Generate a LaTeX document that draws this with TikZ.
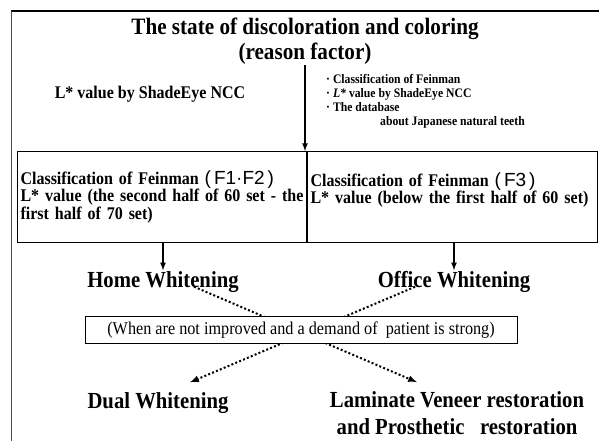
\documentclass[tikz,border=0pt]{standalone}
\usepackage{fontspec}
\setmainfont{Liberation Serif}[FakeStretch=0.9]
\newfontfamily\fsans{Liberation Sans}
\begin{document}
\begin{tikzpicture}
			[x=1pt,y=-1pt,
			big/.style={font=\fontsize{23}{27}\selectfont\bfseries,inner sep=1pt},
			mid/.style={font=\fontsize{17.8}{17.5}\selectfont\bfseries,inner sep=0pt},
			small/.style={font=\fontsize{13}{14}\selectfont\bfseries,inner sep=0pt},
			cell/.style={mid,draw,line width=1pt,minimum height=91pt,inner sep=3pt,anchor=north west,align=left},
			arr/.style={->,line width=1.6pt},
			dots/.style={->,line width=2pt,dash pattern=on 2pt off 2.2pt},
			>=latex]
			\useasboundingbox(0,0)rectangle(599,441);
			% frame
			\draw[line width=1.2pt](11,11)--(599,11);
			\draw[line width=0.8pt,black!70](11,11)--(11,441);
			% top part
			\node[big,name=title,align=center,font=\fontsize{23.5}{25}\selectfont\bfseries]at(305,41){The state of discoloration and coloring\\(reason factor)};
			\node[mid,name=lstar]at(150,94){L* value by ShadeEye NCC};
			\node[small,name=crit,anchor=north west,align=left]at(326,74){· Classification of Feinman\\· \textit{L*} value by ShadeEye NCC\\· The database\\\hspace*{54pt}about Japanese natural teeth};
			% classification box
			\node[cell,name=fcell12,text width=283pt]at(17,151){Classification of Feinman {\fsans\mdseries\fontsize{19}{17.5}\selectfont(\kern3pt F1·F2\kern3pt)}\\L* value (the second half of 60 set - the\\first half of 70 set)};
			\node[cell,name=fcell3,text width=284pt]at(fcell12.north east){Classification of Feinman {\fsans\mdseries\fontsize{19}{17.5}\selectfont(\kern3pt F3\kern3pt)}\\L* value (below the first half of 60 set)\\\mbox{}};
			\draw[arr](title.south)--(title.south|-fcell12.north);
			% treatments
			\node[big,name=home]at(163,282){Home Whitening};
			\node[big,name=office]at(454,282){Office Whitening};
			\node[big,name=dual]at(158,403){Dual Whitening};
			\node[big,name=lami,align=center]at(457,413){Laminate Veneer restoration\\and Prosthetic\ \ \ restoration};
			\draw[arr](home.north|-fcell12.south)--(home.north);
			\draw[arr](office.north|-fcell3.south)--(office.north);
			\draw[dots]([xshift=31pt,yshift=7pt]home.south)--([xshift=-40pt,yshift=8pt]lami.north);
			\draw[dots]([xshift=-39pt,yshift=7pt]office.south)--([xshift=32pt,yshift=9pt]dual.north);
			\node[name=cond,draw,line width=1pt,fill=white,minimum width=432pt,minimum height=26.5pt,font=\fontsize{18}{18}\selectfont]at(301,330){(When are not improved and a demand of\ \ patient is strong)};
		\end{tikzpicture}
\end{document}
